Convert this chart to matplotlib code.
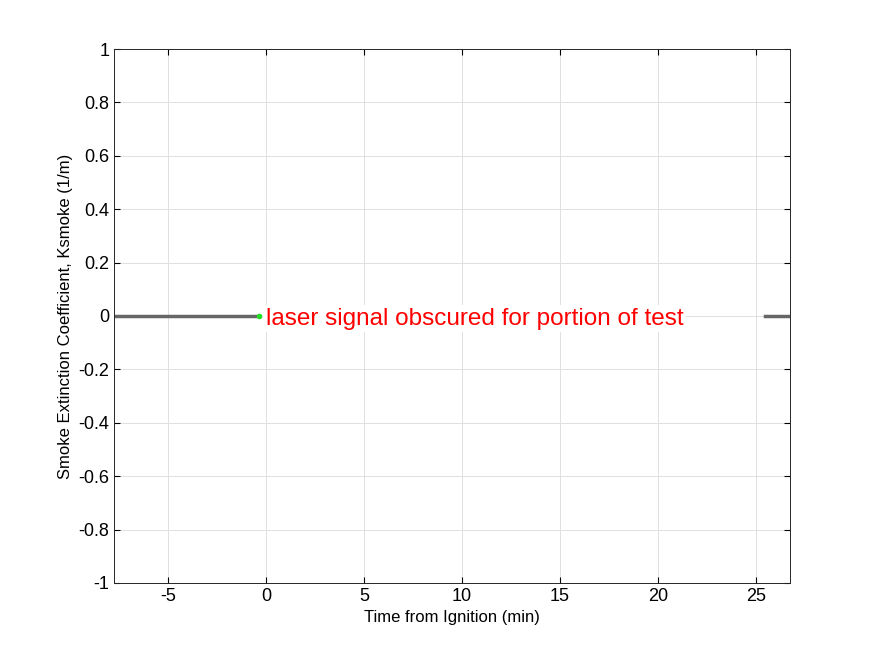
import matplotlib
matplotlib.use("Agg")
import matplotlib.pyplot as plt
import numpy as np

plt.rcParams['font.family'] = ['Liberation Sans', 'DejaVu Sans']
plt.rcParams['axes.unicode_minus'] = False

t_pre = [-7.8, -4.0, -0.36]
k_pre = [0.0, 0.0, 0.0]
t_post = [25.45, 26.0, 26.8]
k_post = [0.0, 0.0, 0.0]
yticks = [-1, -0.8, -0.6, -0.4, -0.2, 0, 0.2, 0.4, 0.6, 0.8, 1]
xticks = [-5, 0, 5, 10, 15, 20, 25]

fig = plt.figure(figsize=(8.75, 6.56), dpi=100)
ax = fig.add_axes([0.1303, 0.1113, 0.7726, 0.814])
ax.plot(t_pre, k_pre, color='#666666', lw=2.5)
ax.plot(t_post, k_post, color='#666666', lw=2.5)
ax.plot([t_pre[-1]], [k_pre[-1]], 'o', color='#22dd22', ms=3)
ax.text(0.0, -0.01, 'laser signal obscured for portion of test', color='red', fontsize=17.5,
        ha='left', va='center', bbox=dict(facecolor='white', edgecolor='none', pad=2))
ax.set_xlim(-7.75, 26.75)
ax.set_ylim(-1, 1)
ax.set_xticks(xticks)
ax.set_yticks(yticks)
ax.set_yticklabels([f'{v:g}' for v in yticks])
ax.tick_params(labelsize=13, direction='in', top=True, right=True, length=4)
ax.grid(True, color='#e0e0e0', lw=0.7)
ax.set_axisbelow(True)
ax.set_xlabel('Time from Ignition (min)', fontsize=12)
ax.set_ylabel('Smoke Extinction Coefficient, Ksmoke (1/m)', fontsize=12)
for s in ax.spines.values():
    s.set_color('#262626'); s.set_linewidth(0.7)
fig.savefig('out.png', dpi=100)
